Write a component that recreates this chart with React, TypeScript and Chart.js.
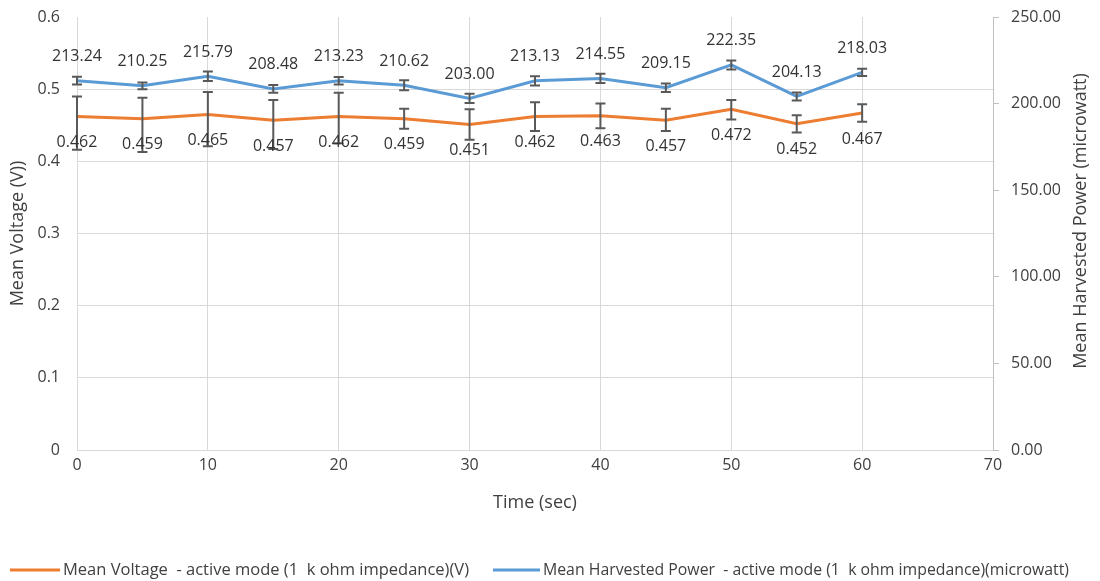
import React, { useEffect, useRef } from "react";
import { Chart, registerables } from "chart.js";

Chart.register(...registerables);

// ---- data ----
const timeSec = [0, 5, 10, 15, 20, 25, 30, 35, 40, 45, 50, 55, 60];
const meanVoltage = [0.462, 0.459, 0.465, 0.457, 0.462, 0.459, 0.451, 0.462, 0.463, 0.457, 0.472, 0.452, 0.467];
const voltageErrPlus = [0.028, 0.029, 0.031, 0.028, 0.033, 0.014, 0.021, 0.02, 0.017, 0.016, 0.013, 0.012, 0.012];
const voltageErrMinus = [0.046, 0.046, 0.044, 0.04, 0.037, 0.014, 0.021, 0.02, 0.017, 0.015, 0.014, 0.012, 0.012];
const meanPower = [213.24, 210.25, 215.79, 208.48, 213.23, 210.62, 203.0, 213.13, 214.55, 209.15, 222.35, 204.13, 218.03];
const powerErr = [2.2, 2.0, 2.7, 2.2, 2.2, 2.9, 2.7, 2.7, 2.7, 2.5, 2.6, 2.3, 2.1];

const voltageLabel = "Mean Voltage  - active mode (1  k ohm impedance)(V)";
const powerLabel = "Mean Harvested Power  - active mode (1  k ohm impedance)(microwatt)";
const xTitle = "Time (sec)";
const yTitle = "Mean Voltage (V))";
const y1Title = "Mean Harvested Power (microwatt)";

const W = 1100;
const H = 581;
const FONT = "'Open Sans', 'Liberation Sans', sans-serif";
const ORANGE = "#ED7D31";
const BLUE = "#5B9BD5";
const GRID = "#d9d9d9";
const TICK = "#404040";
const LABEL = "#333333";
const ERR = "#595959";

export default function App() {
  const ref = useRef<HTMLCanvasElement>(null);

  useEffect(() => {
    const canvas = ref.current;
    if (!canvas) return;

    const errorBars = {
      id: "errorBars",
      afterDatasetsDraw(chart: any) {
        const ctx = chart.ctx;
        const xs = chart.scales.x;
        const ys = chart.scales.y;
        const y1 = chart.scales.y1;
        ctx.save();
        ctx.strokeStyle = ERR;
        ctx.lineWidth = 2;
        const draw = (x: number, top: number, bottom: number) => {
          ctx.beginPath();
          ctx.moveTo(x, top);
          ctx.lineTo(x, bottom);
          ctx.moveTo(x - 5, top);
          ctx.lineTo(x + 5, top);
          ctx.moveTo(x - 5, bottom);
          ctx.lineTo(x + 5, bottom);
          ctx.stroke();
        };
        timeSec.forEach((t, i) => {
          const px = xs.getPixelForValue(t);
          draw(
            px,
            ys.getPixelForValue(meanVoltage[i] + voltageErrPlus[i]),
            ys.getPixelForValue(meanVoltage[i] - voltageErrMinus[i])
          );
          draw(
            px,
            y1.getPixelForValue(meanPower[i] + powerErr[i]),
            y1.getPixelForValue(meanPower[i] - powerErr[i])
          );
        });
        ctx.restore();
      },
    };

    const labelsAndExtras = {
      id: "labelsAndExtras",
      afterDraw(chart: any) {
        const ctx = chart.ctx;
        ctx.save();
        ctx.font = `16px ${FONT}`;
        ctx.fillStyle = LABEL;
        ctx.textAlign = "center";
        ctx.textBaseline = "middle";
        const m0 = chart.getDatasetMeta(0);
        const m1 = chart.getDatasetMeta(1);
        m0.data.forEach((el: any, i: number) => {
          ctx.fillText(meanVoltage[i].toFixed(3), el.x, el.y + 26);
        });
        m1.data.forEach((el: any, i: number) => {
          ctx.fillText(meanPower[i].toFixed(2), el.x, el.y - 24);
        });

        // right axis title (reads bottom to top)
        ctx.fillStyle = TICK;
        ctx.font = `18px ${FONT}`;
        ctx.save();
        ctx.translate(1081, 221);
        ctx.rotate(-Math.PI / 2);
        ctx.fillText(y1Title, 0, 0);
        ctx.restore();

        // legend
        ctx.textAlign = "left";
        ctx.font = `16.5px ${FONT}`;
        ctx.lineWidth = 3;
        const ly = 570;
        ctx.strokeStyle = ORANGE;
        ctx.beginPath();
        ctx.moveTo(10, ly);
        ctx.lineTo(60, ly);
        ctx.stroke();
        ctx.fillStyle = TICK;
        ctx.fillText(voltageLabel, 63, ly, 408);
        ctx.strokeStyle = BLUE;
        ctx.beginPath();
        ctx.moveTo(493, ly);
        ctx.lineTo(540, ly);
        ctx.stroke();
        ctx.fillText(powerLabel, 543, ly, 526);
        ctx.restore();
      },
    };

    const chart = new Chart(canvas, {
      type: "line",
      data: {
        datasets: [
          {
            label: voltageLabel,
            data: timeSec.map((t, i) => ({ x: t, y: meanVoltage[i] })),
            yAxisID: "y",
            borderColor: ORANGE,
            backgroundColor: ORANGE,
            borderWidth: 3,
            pointRadius: 0,
            tension: 0,
          },
          {
            label: powerLabel,
            data: timeSec.map((t, i) => ({ x: t, y: meanPower[i] })),
            yAxisID: "y1",
            borderColor: BLUE,
            backgroundColor: BLUE,
            borderWidth: 3,
            pointRadius: 0,
            tension: 0,
          },
        ],
      },
      options: {
        responsive: false,
        animation: false,
        layout: { padding: { top: 17, bottom: 67, left: 0, right: 0 } },
        plugins: { legend: { display: false }, tooltip: { enabled: false } },
        scales: {
          x: {
            type: "linear",
            min: 0,
            max: 70,
            ticks: { stepSize: 10, padding: 6, color: TICK, font: { family: FONT, size: 16 } },
            grid: { color: GRID, drawTicks: false, lineWidth: 1 },
            border: { display: false },
            title: {
              display: true,
              text: xTitle,
              color: TICK,
              font: { family: FONT, size: 18 },
              padding: { top: 0, bottom: 0 },
            },
            afterFit(s: any) {
              s.height = 64;
              s.paddingLeft = 0;
              s.paddingRight = 0;
            },
          },
          y: {
            position: "left",
            min: 0,
            max: 0.6,
            ticks: {
              stepSize: 0.1,
              padding: 17,
              color: TICK,
              font: { family: FONT, size: 16 },
              callback: (v: any) => String(Number(Number(v).toFixed(1))),
            },
            grid: {
              drawTicks: false,
              color: (c: any) => (c.tick && Math.abs(c.tick.value - 0.6) < 1e-9 ? "rgba(0,0,0,0)" : GRID),
            },
            border: { display: false },
            title: {
              display: true,
              text: yTitle,
              color: TICK,
              font: { family: FONT, size: 18 },
              padding: { top: 7, bottom: 0 },
            },
            afterFit(s: any) {
              s.width = 77;
              s.paddingTop = 0;
              s.paddingBottom = 0;
            },
          },
          y1: {
            position: "right",
            min: 0,
            max: 250,
            ticks: {
              stepSize: 50,
              padding: 12,
              color: TICK,
              font: { family: FONT, size: 16 },
              callback: (v: any) => Number(v).toFixed(2),
            },
            grid: { drawOnChartArea: false, color: "#bfbfbf", tickLength: 6 },
            border: { display: true, color: "#bfbfbf" },
            afterFit(s: any) {
              s.width = 107;
              s.paddingTop = 0;
              s.paddingBottom = 0;
            },
          },
        },
      },
      plugins: [errorBars, labelsAndExtras],
    } as any);

    return () => chart.destroy();
  }, []);

  return (
    <div style={{ position: "fixed", left: 0, top: 0, width: W, height: H, background: "#fff" }}>
      <canvas ref={ref} width={W} height={H} style={{ display: "block", width: W, height: H }} />
    </div>
  );
}
